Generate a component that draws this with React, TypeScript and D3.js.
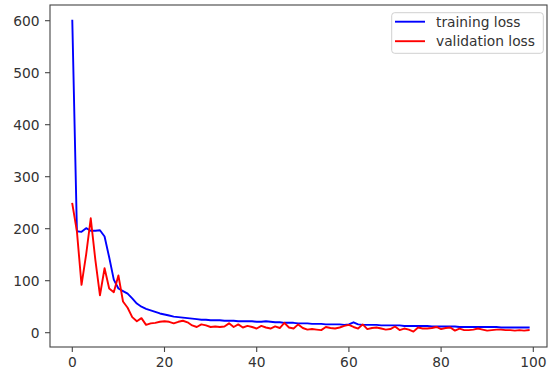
import React from "react";
import * as d3 from "d3";

const epochs: number[] = Array.from({ length: 100 }, (_, i) => i);

const trainingLoss: number[] = [
  600, 195, 194, 201, 196, 196, 197, 185, 145, 102,
  85, 80, 75, 66, 56, 50, 46, 43, 40, 37,
  35, 33, 31, 30, 29, 28, 27, 26, 25, 25,
  24, 24, 24, 23, 23, 23, 22, 22, 22, 22,
  21, 21, 22, 21, 20, 20, 19, 19, 19, 18,
  18, 18, 17, 17, 17, 16, 16, 16, 16, 15,
  16, 20, 16, 15, 15, 15, 15, 14, 14, 14,
  14, 14, 13, 13, 13, 13, 13, 13, 12, 12,
  12, 12, 12, 12, 11, 11, 11, 11, 11, 11,
  11, 11, 11, 10, 10, 10, 10, 10, 10, 10,
];

const validationLoss: number[] = [
  248, 195, 92, 150, 220, 140, 72, 124, 85, 78,
  110, 60, 48, 30, 22, 28, 15, 18, 19, 21,
  22, 21, 18, 21, 23, 20, 14, 11, 16, 14,
  11, 12, 11, 12, 18, 11, 16, 10, 13, 11,
  8, 13, 10, 8, 12, 9, 19, 10, 8, 16,
  9, 6, 7, 6, 5, 11, 9, 8, 10, 13,
  15, 11, 8, 16, 7, 9, 10, 8, 6, 7,
  12, 5, 8, 6, 2, 10, 8, 8, 9, 11,
  7, 9, 10, 4, 8, 5, 5, 6, 8, 6,
  4, 5, 6, 6, 5, 5, 4, 5, 4, 5,
];

const xTicks: number[] = [0, 20, 40, 60, 80, 100];
const yTicks: number[] = [0, 100, 200, 300, 400, 500, 600];
const seriesNames: string[] = ["training loss", "validation loss"];
const seriesColors: string[] = ["#0000ff", "#ff0000"];

export default function App() {
  const W = 548;
  const H = 370;
  const left = 50, right = 547, top = 5, bottom = 347;
  const x = d3.scaleLinear().domain([0, 100]).range([72.3, 533.3]);
  const y = d3.scaleLinear().domain([0, 600]).range([332.7, 20.7]);
  const font = "'DejaVu Sans', sans-serif";
  const fs = 13.8;
  const textColor = "#333";

  const line = d3
    .line<number>()
    .x((_, i) => x(epochs[i]))
    .y((d) => y(d));

  const series = [trainingLoss, validationLoss];

  return (
    <svg
      width={W}
      height={H}
      style={{ position: "absolute", left: 0, top: 0, background: "#fff" }}
    >
      <rect x={0} y={0} width={W} height={H} fill="#fff" />
      <defs>
        <clipPath id="plotclip">
          <rect x={left} y={top} width={right - left} height={bottom - top} />
        </clipPath>
      </defs>
      <g clipPath="url(#plotclip)">
        {series.map((s, k) => (
          <path
            key={k}
            d={line(s) || ""}
            fill="none"
            stroke={seriesColors[k]}
            strokeWidth={1.9}
            strokeLinejoin="round"
            strokeLinecap="square"
          />
        ))}
      </g>
      <rect
        x={left}
        y={top}
        width={right - left}
        height={bottom - top}
        fill="none"
        stroke="#444"
        strokeWidth={1.1}
      />
      {yTicks.map((t) => (
        <g key={"y" + t}>
          <line x1={left - 5} x2={left} y1={y(t)} y2={y(t)} stroke="#444" strokeWidth={1.1} />
          <text
            x={39.5}
            y={y(t)}
            textAnchor="end"
            dominantBaseline="central"
            fontFamily={font}
            fontSize={fs}
            fill={textColor}
          >
            {t}
          </text>
        </g>
      ))}
      {xTicks.map((t) => (
        <g key={"x" + t}>
          <line x1={x(t)} x2={x(t)} y1={bottom} y2={bottom + 5} stroke="#444" strokeWidth={1.1} />
          <text
            x={x(t)}
            y={366.5}
            textAnchor="middle"
            fontFamily={font}
            fontSize={fs}
            fill={textColor}
          >
            {t}
          </text>
        </g>
      ))}
      <g>
        <rect
          x={391.7}
          y={12.7}
          width={151.6}
          height={40.6}
          rx={3}
          fill="#fff"
          fillOpacity={0.8}
          stroke="#d0d0d0"
          strokeWidth={1}
        />
        {seriesNames.map((n, k) => {
          const ly = k === 0 ? 21.7 : 41.2;
          return (
            <g key={n}>
              <line x1={395} x2={425} y1={ly} y2={ly} stroke={seriesColors[k]} strokeWidth={1.9} />
              <text
                x={436}
                y={ly}
                dominantBaseline="central"
                fontFamily={font}
                fontSize={fs}
                fill={textColor}
              >
                {n}
              </text>
            </g>
          );
        })}
      </g>
    </svg>
  );
}
